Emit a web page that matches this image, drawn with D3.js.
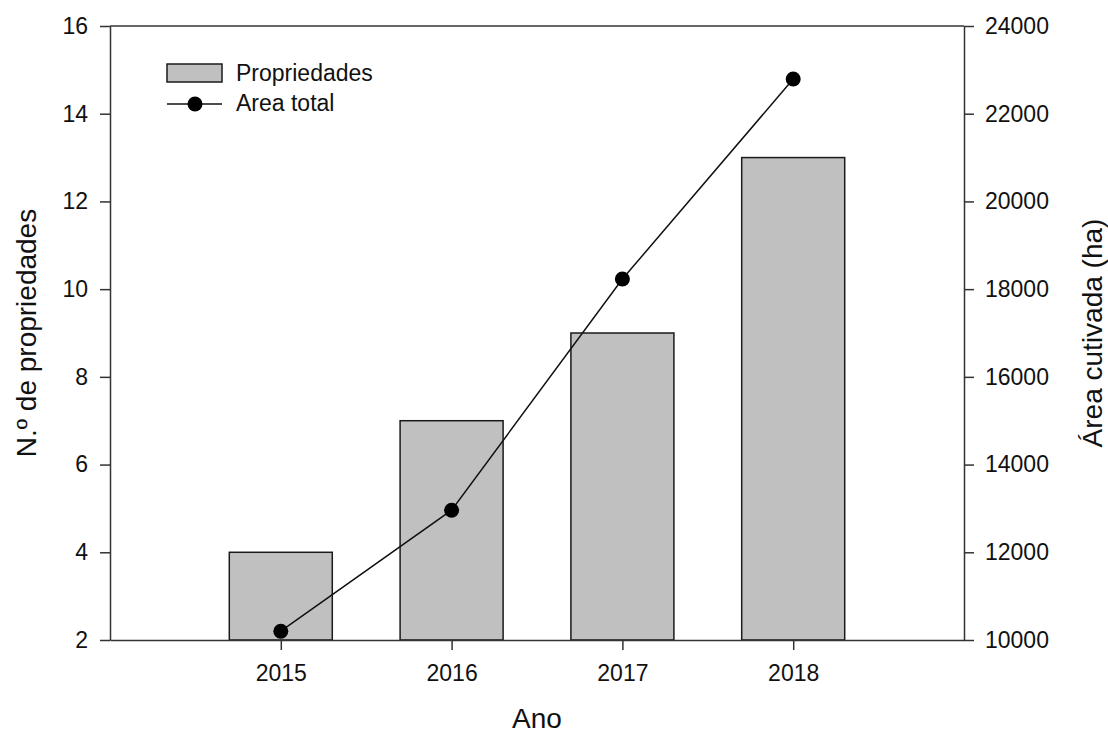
<!DOCTYPE html>
<html>
<head>
<meta charset="utf-8">
<style>
  body { margin: 0; background: #fff; }
  text { font-family: "Liberation Sans", Arial, sans-serif; fill: #111; }
</style>
</head>
<body>
<svg width="1108" height="735"></svg>
<script src="https://d3js.org/d3.v7.min.js"></script>
<script>
// data
var years = [2015, 2016, 2017, 2018];
var propriedades = [4, 7, 9, 13];
var areaTotal = [10200, 12960, 18230, 22790];
var leftTicks = [2, 4, 6, 8, 10, 12, 14, 16];
var rightTicks = [10000, 12000, 14000, 16000, 18000, 20000, 22000, 24000];

(function() {
var svg = d3.select("svg");
var plotLeft = 110, plotRight = 964, plotTop = 26, plotBottom = 640;

var x = d3.scaleLinear().domain([2014, 2019]).range([plotLeft, plotRight]);
var yL = d3.scaleLinear().domain([2, 16]).range([plotBottom, plotTop]);
var yR = d3.scaleLinear().domain([10000, 24000]).range([plotBottom, plotTop]);
var barW = 103;

// bars
svg.append("g").selectAll("rect")
  .data(years)
  .enter().append("rect")
    .attr("x", function(d) { return x(d) - barW / 2; })
    .attr("y", function(d, i) { return yL(propriedades[i]); })
    .attr("width", barW)
    .attr("height", function(d, i) { return plotBottom - yL(propriedades[i]); })
    .attr("fill", "#c0c0c0")
    .attr("stroke", "#1a1a1a")
    .attr("stroke-width", 1.5);

// line + dots
var line = d3.line()
  .x(function(d, i) { return x(years[i]); })
  .y(function(d) { return yR(d); });

svg.append("path")
  .datum(areaTotal)
  .attr("d", line)
  .attr("fill", "none")
  .attr("stroke", "#111")
  .attr("stroke-width", 1.5);

svg.append("g").selectAll("circle")
  .data(areaTotal)
  .enter().append("circle")
    .attr("cx", function(d, i) { return x(years[i]); })
    .attr("cy", function(d) { return yR(d); })
    .attr("r", 7.5)
    .attr("fill", "#000");

// axes
function styleAxis(g) {
  g.attr("font-size", 23).attr("font-family", "Liberation Sans, Arial, sans-serif");
  g.selectAll("path, line").attr("stroke", "#333").attr("stroke-width", 1.5);
  g.selectAll("text").attr("fill", "#111");
}

svg.append("g")
  .attr("transform", "translate(" + plotLeft + ",0)")
  .call(d3.axisLeft(yL).tickValues(leftTicks).tickSize(10).tickSizeOuter(0).tickPadding(12))
  .call(styleAxis);

svg.append("g")
  .attr("transform", "translate(" + plotRight + ",0)")
  .call(d3.axisRight(yR).tickValues(rightTicks).tickFormat(d3.format("d")).tickSize(10).tickSizeOuter(0).tickPadding(11))
  .call(styleAxis);

svg.append("g")
  .attr("transform", "translate(0," + plotBottom + ")")
  .call(d3.axisBottom(x).tickValues(years).tickFormat(d3.format("d")).tickSize(10).tickSizeOuter(0).tickPadding(15))
  .call(styleAxis);

// top frame line
svg.append("line")
  .attr("x1", plotLeft).attr("x2", plotRight)
  .attr("y1", plotTop).attr("y2", plotTop)
  .attr("stroke", "#333").attr("stroke-width", 1.5);

// axis titles
svg.append("text")
  .attr("x", 537).attr("y", 728)
  .attr("text-anchor", "middle")
  .attr("font-size", 28)
  .text("Ano");

svg.append("text")
  .attr("transform", "translate(36,333) rotate(-90)")
  .attr("text-anchor", "middle")
  .attr("font-size", 28)
  .text("N.º de propriedades");

svg.append("text")
  .attr("transform", "translate(1102,333) rotate(-90)")
  .attr("text-anchor", "middle")
  .attr("font-size", 28)
  .text("Área cutivada (ha)");

// legend
var lg = svg.append("g");
lg.append("rect")
  .attr("x", 167).attr("y", 64).attr("width", 55).attr("height", 18)
  .attr("fill", "#c0c0c0").attr("stroke", "#1a1a1a").attr("stroke-width", 1.5);
lg.append("text").attr("x", 236).attr("y", 81).attr("font-size", 23).text("Propriedades");
lg.append("line")
  .attr("x1", 167).attr("x2", 222).attr("y1", 104).attr("y2", 104)
  .attr("stroke", "#111").attr("stroke-width", 1.5);
lg.append("circle").attr("cx", 195).attr("cy", 104).attr("r", 7.5).attr("fill", "#000");
lg.append("text").attr("x", 236).attr("y", 111).attr("font-size", 23).text("Area total");
})();
</script>
</body>
</html>
